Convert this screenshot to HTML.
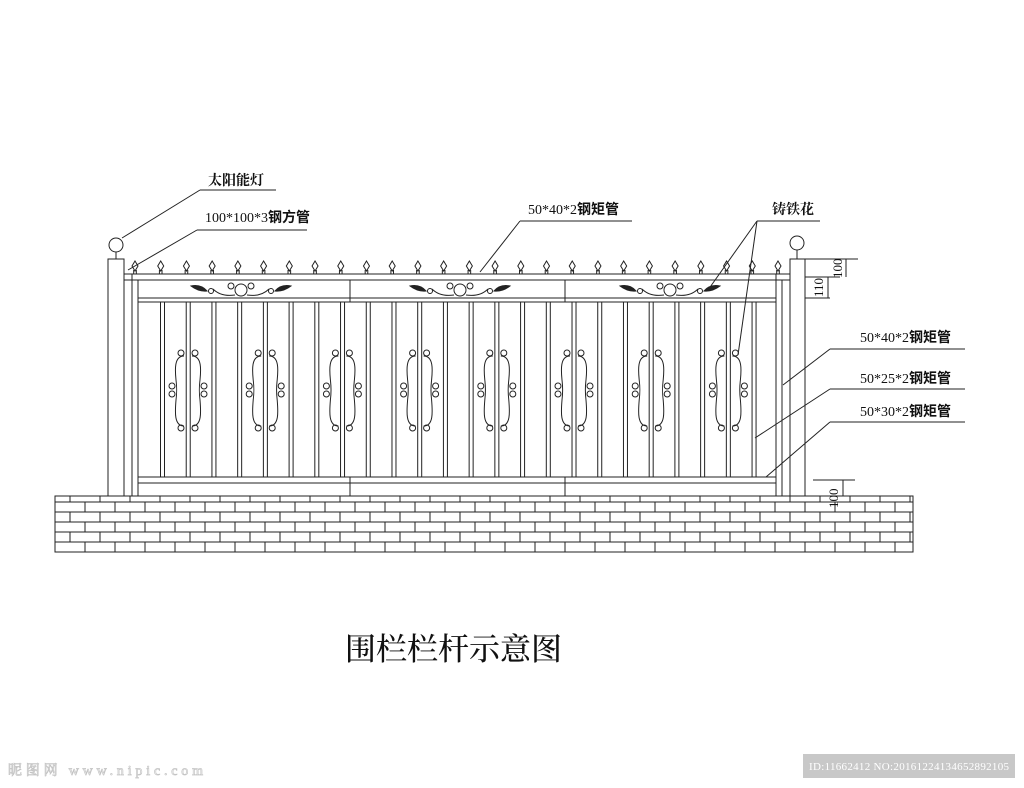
<!DOCTYPE html>
<html><head><meta charset="utf-8"><style>
html,body{margin:0;padding:0;background:#fff}
svg{display:block}
text{font-family:"Liberation Serif","Noto Serif CJK SC","Noto Sans CJK SC",serif;fill:#111}
</style></head><body>
<svg id="s" width="1024" height="788" viewBox="0 0 1024 788" xmlns="http://www.w3.org/2000/svg">
<g id="g" stroke="#222" stroke-width="1" fill="none"></g>
<text x="208" y="185" font-size="14" font-family="Noto Sans CJK SC,sans-serif" font-weight="bold">太阳能灯</text>
<text x="205" y="222" font-size="14">100*100*3<tspan font-family="Noto Sans CJK SC,sans-serif" font-weight="bold">钢方管</tspan></text>
<text x="528" y="214" font-size="14">50*40*2<tspan font-family="Noto Sans CJK SC,sans-serif" font-weight="bold">钢矩管</tspan></text>
<text x="772" y="214" font-size="14" font-family="Noto Sans CJK SC,sans-serif" font-weight="bold">铸铁花</text>
<text x="860" y="342" font-size="14">50*40*2<tspan font-family="Noto Sans CJK SC,sans-serif" font-weight="bold">钢矩管</tspan></text>
<text x="860" y="383" font-size="14">50*25*2<tspan font-family="Noto Sans CJK SC,sans-serif" font-weight="bold">钢矩管</tspan></text>
<text x="860" y="416" font-size="14">50*30*2<tspan font-family="Noto Sans CJK SC,sans-serif" font-weight="bold">钢矩管</tspan></text>
<text font-size="13" transform="translate(823,297) rotate(-90)">110</text>
<text font-size="13" transform="translate(842,278) rotate(-90)">100</text>
<text font-size="13" transform="translate(838,508) rotate(-90)">100</text>
<text x="345" y="660" font-size="31" font-family="Noto Sans CJK SC,sans-serif" font-weight="500">围栏栏杆示意图</text>
<text x="8" y="775" font-size="14" textLength="195" font-family="Liberation Sans,Noto Sans CJK SC,sans-serif" style="fill:#fff" stroke="#c4c4c4" stroke-width="0.7">昵图网 www.nipic.com</text>
<rect x="803" y="754" width="212" height="24" fill="#c8c8c8"/>
<text x="809" y="770" font-size="11" textLength="200" font-family="Liberation Sans,sans-serif" style="fill:#fff">ID:11662412 NO:20161224134652892105</text>
</svg>
<script>
var g=document.getElementById('g'),o='';
function L(a,b,c,d,w){o+='<line x1="'+a+'" y1="'+b+'" x2="'+c+'" y2="'+d+'"'+(w?' stroke-width="'+w+'"':'')+'/>';}
function R(x,y,w,h){o+='<rect x="'+x+'" y="'+y+'" width="'+w+'" height="'+h+'"/>';}
R(55,496,858,56);
var rows=[496,502,512,522,532,542,552];
for(var i=0;i<rows.length-1;i++){if(i>0)L(55,rows[i],913,rows[i]);var off=(i%2)?15:0;for(var x=55+off+15;x<913;x+=30)L(x,rows[i],x,rows[i+1]);}
R(108,259,16,237);o+='<circle cx="116" cy="245" r="7"/>';L(116,252,116,259);
R(790,259,15,237);o+='<circle cx="797" cy="243" r="7"/>';L(797,250,797,259);
L(132,274,132,496);L(138,280,138,496);L(776,274,776,496);L(782,280,782,496);
L(124,274,790,274);L(124,280,790,280);L(138,298,776,298);L(138,302,776,302);
L(138,477,776,477);L(138,483,776,483);
L(350,280,350,302);L(565,280,565,302);L(350,477,350,496);L(565,477,565,496);
for(var i=0;i<26;i++){var x=135+25.72*i;L(x-1.3,270,x-1.3,274);L(x+1.3,270,x+1.3,274);o+='<path d="M'+x+' 261 L'+(x+3)+' 266 L'+x+' 271 L'+(x-3)+' 266Z"/>';}
for(var i=0;i<24;i++){var x=162.5+25.72*i;L(x-2,302,x-2,477);L(x+2,302,x+2,477);}
for(var k=0;k<8;k++){var c=188+77.2*k;
o+='<path d="M'+(c-4)+' 356 C'+(c-14)+' 356 '+(c-13)+' 370 '+(c-12)+' 380 C'+(c-11)+' 388 '+(c-11)+' 392 '+(c-12)+' 400 C'+(c-13)+' 412 '+(c-14)+' 426 '+(c-4)+' 426"/>';
o+='<path d="M'+(c+4)+' 356 C'+(c+14)+' 356 '+(c+13)+' 370 '+(c+12)+' 380 C'+(c+11)+' 388 '+(c+11)+' 392 '+(c+12)+' 400 C'+(c+13)+' 412 '+(c+14)+' 426 '+(c+4)+' 426"/>';
[[c-7,353],[c+7,353],[c-7,428],[c+7,428],[c-16,386],[c-16,394],[c+16,386],[c+16,394]].forEach(function(p){o+='<circle cx="'+p[0]+'" cy="'+p[1]+'" r="3"/>';});}
[241,460,670].forEach(function(c){
o+='<circle cx="'+c+'" cy="290" r="6"/>';
o+='<path d="M'+(c-6)+' 295 Q'+(c-20)+' 297 '+(c-28)+' 289 M'+(c+6)+' 295 Q'+(c+20)+' 297 '+(c+28)+' 289"/>';
o+='<circle cx="'+(c-10)+'" cy="286" r="3"/><circle cx="'+(c+10)+'" cy="286" r="3"/><circle cx="'+(c-30)+'" cy="291" r="2.5"/><circle cx="'+(c+30)+'" cy="291" r="2.5"/>';
o+='<path d="M'+(c-34)+' 291 Q'+(c-40)+' 284 '+(c-50)+' 286 Q'+(c-42)+' 292 '+(c-34)+' 291Z" fill="#222"/>';
o+='<path d="M'+(c+34)+' 291 Q'+(c+40)+' 284 '+(c+50)+' 286 Q'+(c+42)+' 292 '+(c+34)+' 291Z" fill="#222"/>';});
L(122,238,200,190);L(200,190,276,190);
L(128,270,197,230);L(197,230,307,230);
L(480,272,520,221);L(520,221,632,221);
L(757,221,820,221);L(757,221,708,290);L(757,221,738,355);
L(783,385,830,349);L(830,349,965,349);
L(755,438,830,389);L(830,389,965,389);
L(766,477,830,422);L(830,422,965,422);
L(805,259,858,259);L(805,277,840,277);L(805,298,830,298);
L(828,277,828,298);L(846,259,846,277);
L(813,480,855,480);L(843,480,843,496);
g.innerHTML=o;
</script>
</body></html>
